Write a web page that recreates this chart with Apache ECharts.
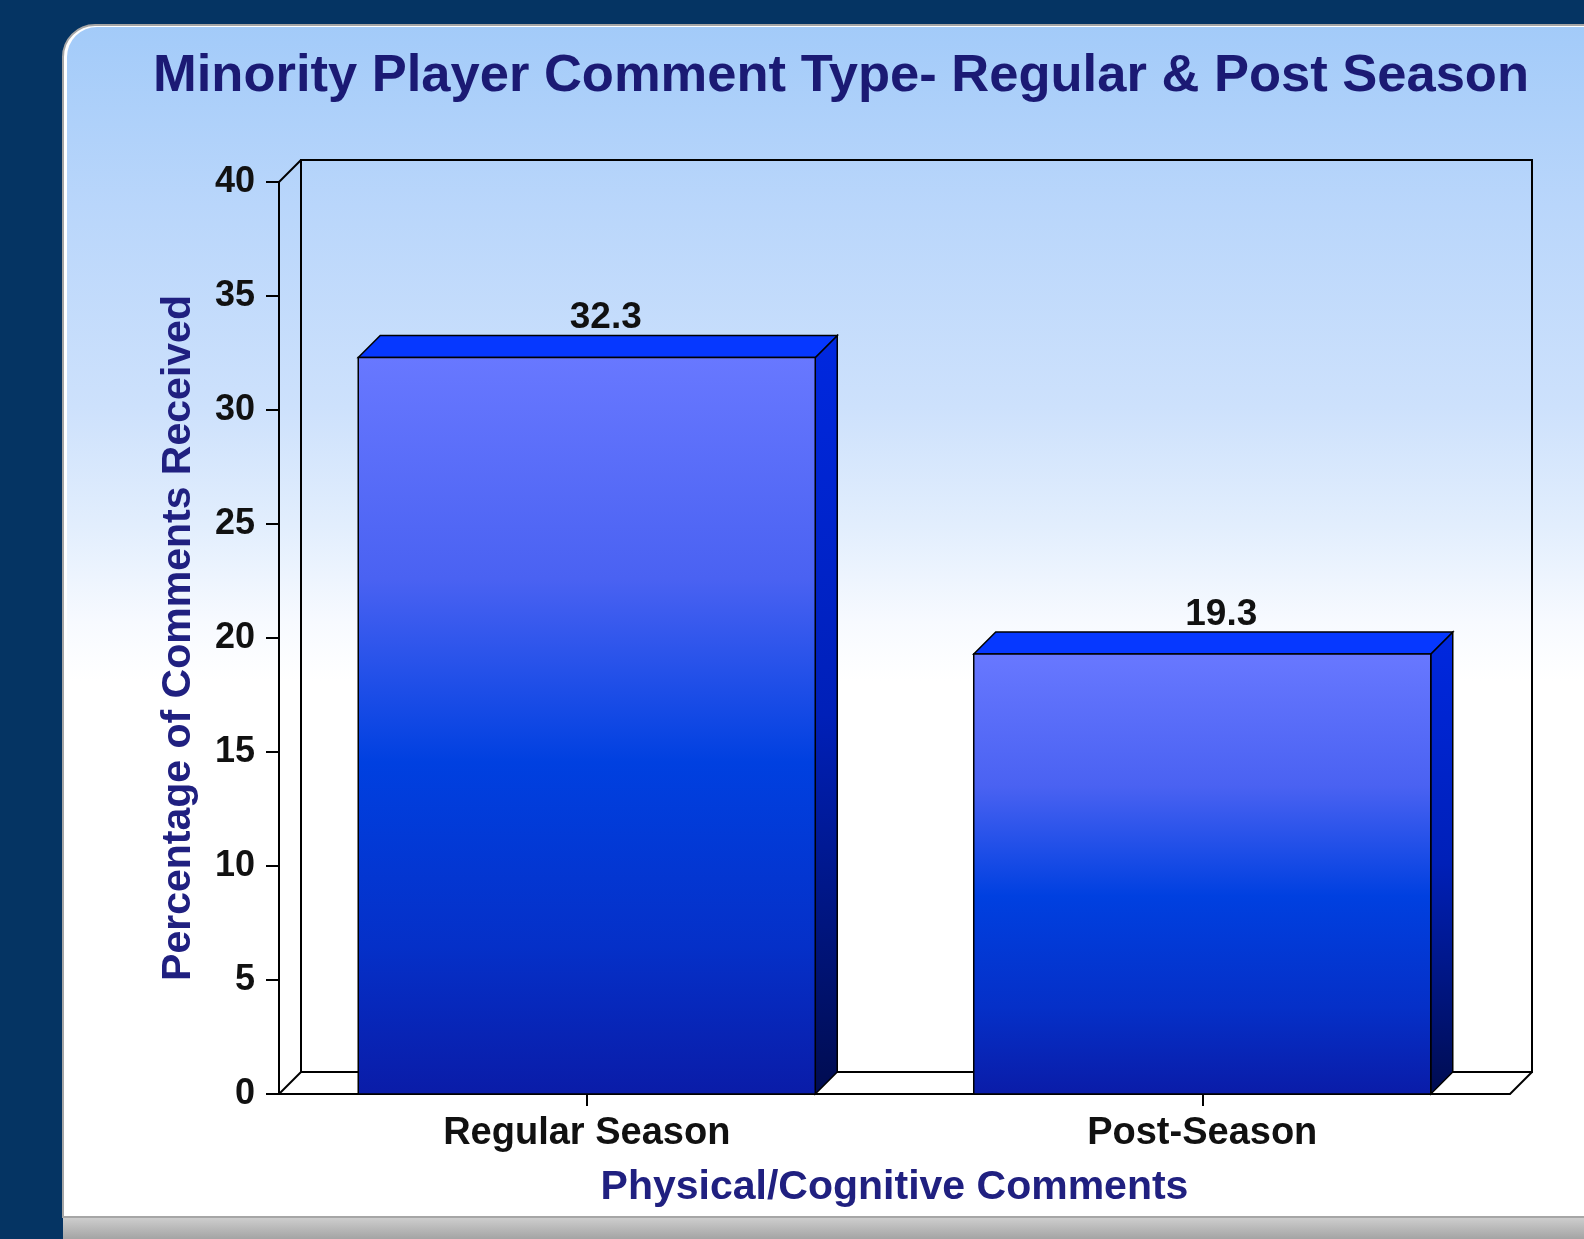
<!DOCTYPE html>
<html><head><meta charset="utf-8">
<script src="https://cdn.jsdelivr.net/npm/echarts@6/dist/echarts.min.js"></script>
<style>html,body{margin:0;padding:0;background:#053463;}#chart{width:1584px;height:1239px;}</style>
</head><body><div id="chart"></div>
<script>
// ---- data ----
const categories = ['Regular Season', 'Post-Season'];
const values = [32.3, 19.3];
const yMin = 0;
const yMax = 40;
const yStep = 5;
const titleText = 'Minority Player Comment Type- Regular & Post Season';
const xAxisName = 'Physical/Cognitive Comments';
const yAxisName = 'Percentage of Comments Received';

// ---- style constants ----
const FONT = "'Liberation Sans', Arial, sans-serif";
const DEPTH = 22;
const BAR_RATIO = 0.7425;

const chart = echarts.init(document.getElementById('chart'), null, {renderer: 'canvas'});

function renderWalls(params, api) {
  const cs = params.coordSys;
  const L = cs.x, R = cs.x + cs.width, T = cs.y, B = cs.y + cs.height, d = DEPTH;
  const st = {stroke: '#000', lineWidth: 2, fill: null};
  return {
    type: 'group',
    children: [
      {type: 'rect', shape: {x: L + d, y: T - d, width: cs.width, height: cs.height}, style: {fill: null, stroke: '#000', lineWidth: 2}},
      {type: 'line', shape: {x1: L, y1: T, x2: L + d, y2: T - d}, style: st},
      {type: 'line', shape: {x1: L, y1: B, x2: L + d, y2: B - d}, style: st},
      {type: 'line', shape: {x1: R, y1: B, x2: R + d, y2: B - d}, style: st}
    ]
  };
}

function renderBar(params, api) {
  const cat = api.value(0), v = api.value(1);
  const p = api.coord([cat, v]);
  const b = api.coord([cat, 0]);
  const band = api.size([1, 0])[0];
  const w = band * BAR_RATIO;
  const x0 = p[0] - w / 2, x1 = p[0] + w / 2, yT = p[1], yB = b[1], d = DEPTH;
  return {
    type: 'group',
    children: [
      {type: 'polygon', shape: {points: [[x1, yT], [x1 + d, yT - d], [x1 + d, yB - d], [x1, yB]]},
        style: {fill: {type: 'linear', x: 0, y: 0, x2: 0, y2: 1, colorStops: [
          {offset: 0, color: '#0028e0'}, {offset: 0.5, color: '#0020b8'}, {offset: 1, color: '#000c50'}]},
          stroke: '#000', lineWidth: 1.5}},
      {type: 'polygon', shape: {points: [[x0, yT], [x0 + d, yT - d], [x1 + d, yT - d], [x1, yT]]},
        style: {fill: '#0638ff', stroke: '#000', lineWidth: 1.5}},
      {type: 'rect', shape: {x: x0, y: yT, width: w, height: yB - yT},
        style: {fill: {type: 'linear', x: 0, y: 0, x2: 0, y2: 1, colorStops: [
          {offset: 0, color: '#6878ff'}, {offset: 0.3, color: '#4a62f2'},
          {offset: 0.55, color: '#0040e0'}, {offset: 0.8, color: '#0530c8'}, {offset: 1, color: '#0a1ca8'}]},
          stroke: '#000', lineWidth: 1.5}},
      {type: 'text', x: p[0] + 19, y: yT - d + 1,
        style: {text: v.toFixed(1), font: 'bold 37px ' + FONT, fill: '#111', align: 'center', verticalAlign: 'bottom'}}
    ]
  };
}

const option = {
  backgroundColor: '#053463',
  animation: false,
  title: {
    text: titleText,
    left: 836, top: 45, textAlign: 'center',
    textStyle: {fontFamily: FONT, fontWeight: 'bold', fontSize: 52.5, color: '#1b1a74'}
  },
  graphic: [
    {type: 'rect', z: -10, shape: {x: 63, y: 1217, width: 1540, height: 22},
      style: {fill: {type: 'linear', x: 0, y: 0, x2: 0, y2: 1, colorStops: [{offset: 0, color: '#cfcfcf'}, {offset: 1, color: '#a4a4a4'}]}}},
    {type: 'rect', z: -10, shape: {x: 63, y: 25, width: 1540, height: 1192, r: [32, 0, 0, 0]},
      style: {fill: '#ffffff', stroke: '#a6a6a6', lineWidth: 2}},
    {type: 'rect', z: -9, shape: {x: 67, y: 27, width: 1530, height: 1189, r: [30, 0, 0, 0]},
      style: {fill: {type: 'linear', x: 0, y: 0, x2: 0, y2: 1, colorStops: [
        {offset: 0, color: '#a3cbf9'}, {offset: 0.15, color: '#b9d6fb'}, {offset: 0.32, color: '#cde1fc'},
        {offset: 0.42, color: '#e2eefd'}, {offset: 0.5, color: '#f7faff'}, {offset: 0.55, color: '#ffffff'}, {offset: 1, color: '#ffffff'}]}}}
  ],
  grid: {left: 279, right: 74, top: 182, bottom: 145},
  xAxis: {
    type: 'category', data: categories,
    name: xAxisName, nameLocation: 'middle', nameGap: 73,
    nameTextStyle: {fontFamily: FONT, fontWeight: 'bold', fontSize: 41, color: '#202080'},
    axisLine: {show: true, lineStyle: {color: '#000', width: 2}},
    axisTick: {show: true, alignWithLabel: true, length: 12, lineStyle: {color: '#000', width: 2}},
    axisLabel: {margin: 21, fontFamily: FONT, fontWeight: 'bold', fontSize: 38, color: '#111'},
    splitLine: {show: false}
  },
  yAxis: {
    type: 'value', min: yMin, max: yMax, interval: yStep,
    name: yAxisName, nameLocation: 'middle', nameGap: 80, nameRotate: 90,
    nameTextStyle: {fontFamily: FONT, fontWeight: 'bold', fontSize: 41, color: '#202080'},
    axisLine: {show: true, lineStyle: {color: '#000', width: 2}},
    axisTick: {show: true, length: 13, lineStyle: {color: '#000', width: 2}},
    axisLabel: {margin: 24, fontFamily: FONT, fontWeight: 'bold', fontSize: 36, color: '#111'},
    splitLine: {show: false}
  },
  series: [
    {type: 'custom', z: 1, silent: true, renderItem: renderWalls, data: [[0, 0]], encode: {x: 0, y: 1}},
    {type: 'custom', z: 3, renderItem: renderBar,
      data: categories.map((c, i) => [i, values[i]]), encode: {x: 0, y: 1}}
  ]
};
chart.setOption(option);
</script>
</body></html>
